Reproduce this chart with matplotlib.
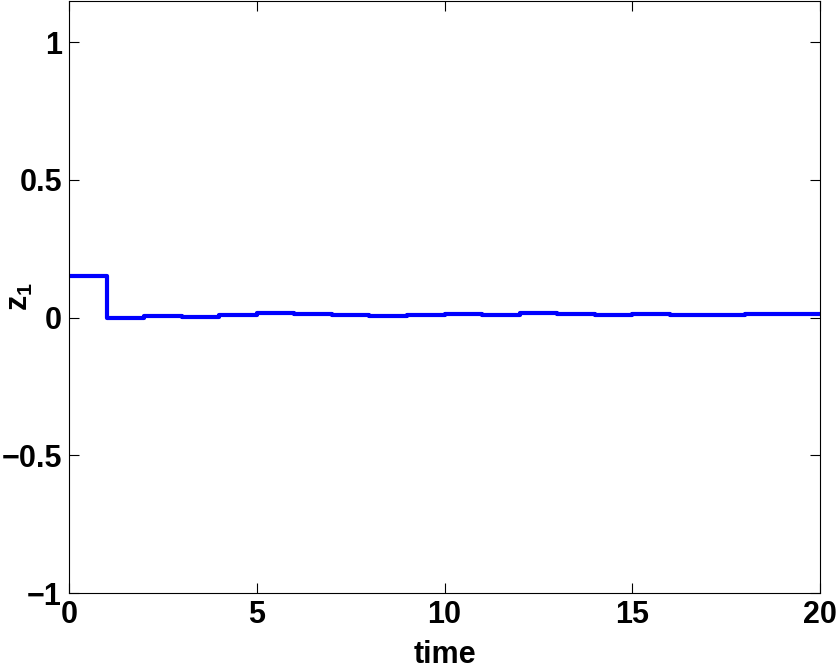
import numpy as np
import matplotlib
matplotlib.use("Agg")
import matplotlib.pyplot as plt

# piecewise-constant z1, one value per unit time interval [k, k+1)
t_start = np.arange(0, 20)
z1 = [0.150, -0.003, 0.005, 0.003, 0.008, 0.017, 0.014, 0.011, 0.007, 0.010,
      0.012, 0.010, 0.016, 0.014, 0.010, 0.012, 0.009, 0.008, 0.013, 0.012]

x_ticks = [0, 5, 10, 15, 20]
y_ticks = [-1, -0.5, 0, 0.5, 1]
y_ticklabels = ['\u22121', '\u22120.5', '0', '0.5', '1']

plt.rcParams['font.family'] = ['Liberation Sans', 'DejaVu Sans']
plt.rcParams['font.weight'] = 'bold'
plt.rcParams['mathtext.fontset'] = 'custom'
plt.rcParams['mathtext.rm'] = 'Liberation Sans:bold'
plt.rcParams['mathtext.bf'] = 'Liberation Sans:bold'

fig = plt.figure(figsize=(8.37, 6.66), dpi=100)
ax = fig.add_axes([0.0824, 0.1096, 0.8976, 0.889])

tt = np.append(t_start, 20)
zz = np.append(z1, z1[-1])
ax.plot(tt, zz, drawstyle='steps-post', color=(0, 0, 1), linewidth=3)

ax.set_xlim(0, 20)
ax.set_ylim(-1, 1.15)
ax.set_xticks(x_ticks)
ax.set_yticks(y_ticks)
ax.set_yticklabels(y_ticklabels)
ax.tick_params(direction='in', length=7, width=0.8, labelsize=22,
               top=True, right=True, pad=5)
for lab in ax.get_xticklabels() + ax.get_yticklabels():
    lab.set_fontweight('bold')
for s in ax.spines.values():
    s.set_linewidth(0.8)

ax.set_xlabel('time', fontsize=22, fontweight='bold')
ax.xaxis.set_label_coords(0.5, -0.08)
ax.set_ylabel('z$_\\mathrm{1}$', fontsize=22, fontweight='bold')
ax.yaxis.set_label_coords(-0.045, 0.5)

fig.savefig('out.png', dpi=100)
